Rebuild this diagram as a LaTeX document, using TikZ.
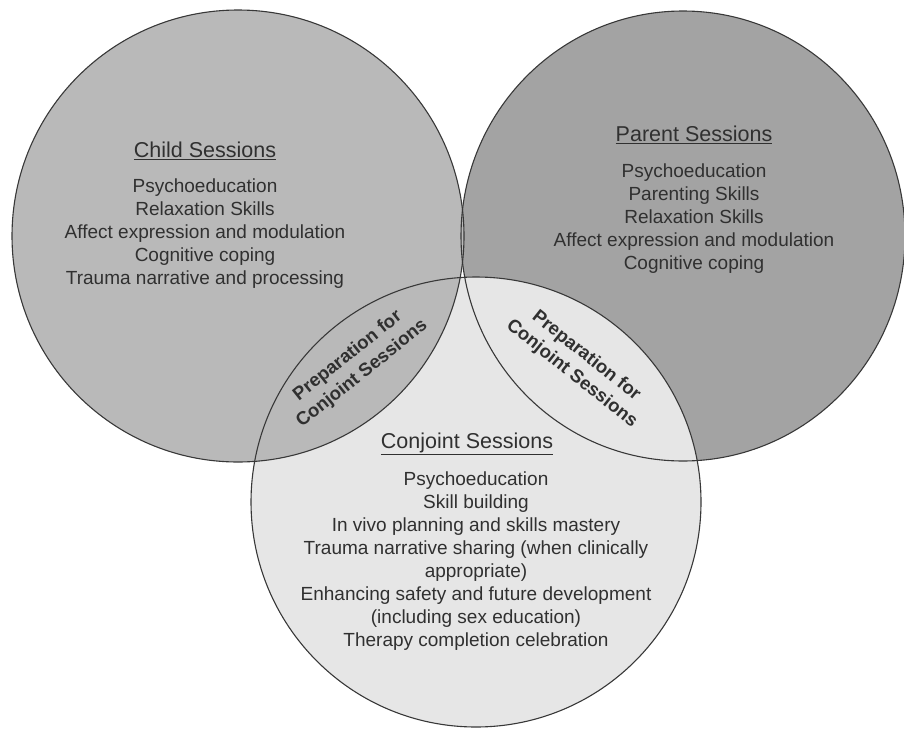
\documentclass[tikz,border=0pt]{standalone}
\usepackage{fontspec}
\setmainfont{Liberation Sans}
\definecolor{childfill}{HTML}{B9B9B9}
\definecolor{parentfill}{HTML}{A3A3A3}
\definecolor{conjfill}{HTML}{E6E6E6}
\definecolor{ink}{HTML}{303030}
\begin{document}
\begin{tikzpicture}[x=1pt,y=-1pt,
  outline/.style={draw=black!78, line width=1.1pt},
  body/.style={align=center, text=ink, inner sep=0pt, font=\fontsize{19}{23}\selectfont},
  head/.style={text=ink, inner sep=0pt, font=\fontsize{21.5}{26}\selectfont},
  prep/.style={align=center, text=ink, inner sep=0pt, font=\bfseries\fontsize{18.5}{23}\selectfont}]
\useasboundingbox (0,0) rectangle (904,728);
% fills
\fill[parentfill] (683,236) ellipse [x radius=222pt, y radius=225pt];
\fill[conjfill] (476,502) circle [radius=225pt];
\fill[childfill] (238,236) circle [radius=226pt];
% outlines
\draw[outline] (683,236) ellipse [x radius=222pt, y radius=225pt];
\draw[outline] (476,502) circle [radius=225pt];
\draw[outline] (238,236) circle [radius=226pt];
% child
\node[head] (childhead) at (205,151) {\underline{Child Sessions}};
\node[body] (childbody) at (205,234) {Psychoeducation\\Relaxation Skills\\Affect expression and modulation\\Cognitive coping\\Trauma narrative and processing};
% parent
\node[head] (parenthead) at (694,135) {\underline{Parent Sessions}};
\node[body] (parentbody) at (694,219) {Psychoeducation\\Parenting Skills\\Relaxation Skills\\Affect expression and modulation\\Cognitive coping};
% conjoint
\node[head] (conjhead) at (467,444) {\underline{Conjoint Sessions}};
\node[body] (conjbody) at (476,561) {Psychoeducation\\Skill building\\In vivo planning and skills mastery\\Trauma narrative sharing (when clinically\\appropriate)\\Enhancing safety and future development\\(including sex education)\\Therapy completion celebration};
% preparation labels
\node[prep, rotate=38.5] (prepleft) at (355,365) {Preparation for\\Conjoint Sessions};
\node[prep, rotate=-38.5] (prepright) at (579,365) {Preparation for\\Conjoint Sessions};
\end{tikzpicture}
\end{document}
